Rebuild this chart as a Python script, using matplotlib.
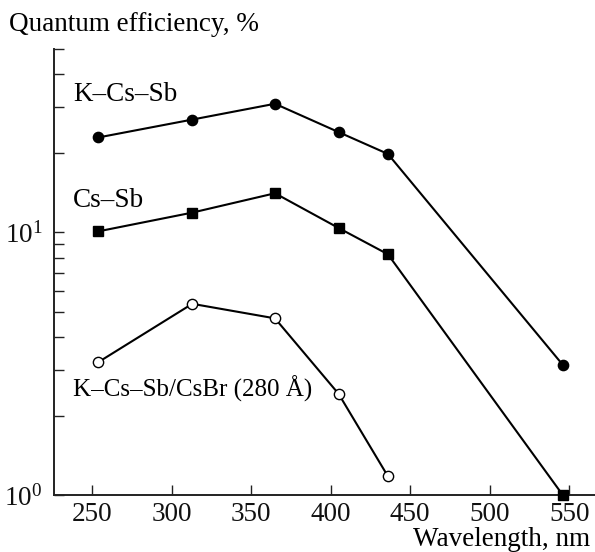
import matplotlib

matplotlib.use("Agg")
import matplotlib.pyplot as plt
from matplotlib.ticker import LogLocator, LogFormatterSciNotation, NullFormatter


WAVELENGTH = [254, 313, 365, 405, 436, 546]
KCSSB = [23.0, 26.9, 30.9, 24.1, 19.9, 3.13]
CSSB = [10.1, 11.9, 14.1, 10.4, 8.26, 1.0]
CSBR_WAVELENGTH = [254, 313, 365, 405, 436]
CSBR = [3.21, 5.35, 4.71, 2.43, 1.18]

LABELS = ["K\u2013Cs\u2013Sb", "Cs\u2013Sb", "K\u2013Cs\u2013Sb/CsBr (280 \u00c5)"]
LABEL_POS = [(238, 33.6), (238, 13.2), (238, 2.54)]
LABEL_SIZE = [19.5, 19.5, 18]

FS = 19.5

plt.rcParams["font.family"] = ["Liberation Serif", "DejaVu Serif"]
plt.rcParams["mathtext.fontset"] = "stix"
plt.rcParams["font.size"] = FS

fig = plt.figure(figsize=(5.95, 5.52), dpi=100)
ax = fig.add_axes([0.0903, 0.103, 0.9097, 0.8085])

line_kw = dict(color="black", linewidth=1.5, markersize=7.4, clip_on=False, zorder=3)
ax.plot(WAVELENGTH, KCSSB, marker="o", **line_kw)
ax.plot(WAVELENGTH, CSSB, marker="s", **line_kw)
ax.plot(CSBR_WAVELENGTH, CSBR, marker="o", markerfacecolor="white", **line_kw)

for text, (x, y), size in zip(LABELS, LABEL_POS, LABEL_SIZE):
    ax.text(x, y, text, ha="left", va="center", fontsize=size)

ax.set_yscale("log")
ax.set_xlim(225.9, 566.2)
ax.set_ylim(1, 50)
ax.set_xticks([250, 300, 350, 400, 450, 500, 550])
ax.yaxis.set_major_locator(LogLocator(base=10, numticks=5))
ax.yaxis.set_major_formatter(LogFormatterSciNotation())
ax.yaxis.set_minor_locator(LogLocator(base=10, subs=range(2, 10), numticks=20))
ax.yaxis.set_minor_formatter(NullFormatter())

ax.tick_params(axis="both", which="both", direction="in", width=1.0, colors="#222222",
               labelcolor="#111111", labelsize=FS)
ax.tick_params(axis="both", which="major", length=7)
ax.tick_params(axis="x", which="major", pad=5)
ax.tick_params(axis="y", which="minor", length=7)
ax.tick_params(axis="y", which="major", pad=8)

for side in ("top", "right"):
    ax.spines[side].set_visible(False)
for side in ("left", "bottom"):
    ax.spines[side].set_linewidth(1.4)
    ax.spines[side].set_color("#222222")

fig.text(0.015, 0.955, "Quantum efficiency, %", ha="left", va="center", fontsize=FS)
fig.text(0.992, 0.01, "Wavelength, nm", ha="right", va="baseline", fontsize=FS)

fig.savefig("out.png", dpi=100)
